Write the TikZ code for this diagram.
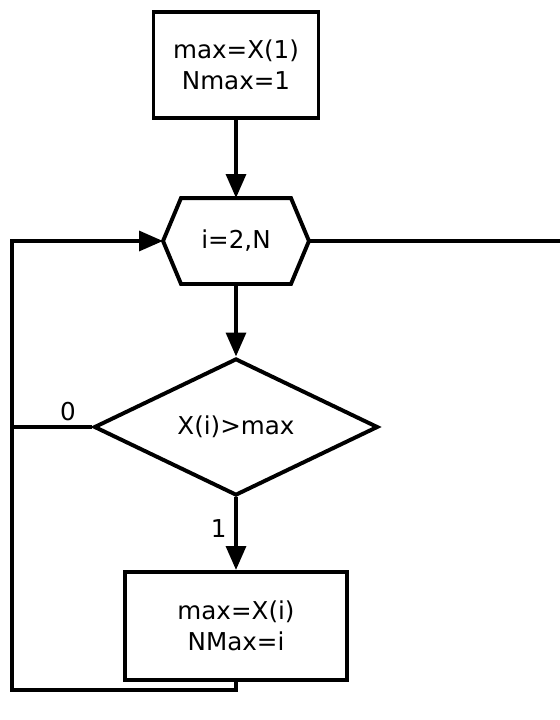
\documentclass[tikz,border=0pt]{standalone}
\usepackage{fontspec}
\setmainfont{DejaVu Sans}
\usetikzlibrary{arrows.meta,shapes.geometric}

\begin{document}
\begin{tikzpicture}[line width=2.8pt,
    font=\fontsize{17.5}{22.5}\selectfont,
    box/.style={draw,align=center,inner sep=0pt},
    flow/.style={-{Triangle[length=17pt,width=14pt]}}]
    \useasboundingbox (0,0) rectangle (14,-18);
    \node[box,minimum width=4.125cm,minimum height=2.65cm] (init) at (5.9,-1.625) {max=X(1)\\Nmax=1};
    \node[inner sep=0pt,minimum width=3.55cm,minimum height=2.05cm] (loop) at (5.9,-6.025) {i=2,N};
    \draw (loop.west)--([xshift=0.45cm]loop.north west)--([xshift=-0.45cm]loop.north east)--(loop.east)
        --([xshift=-0.45cm]loop.south east)--([xshift=0.45cm]loop.south west)--cycle;
    \node[draw,diamond,inner sep=0pt,aspect=2.07,minimum width=7.1cm,minimum height=3.425cm] (test) at (5.9,-10.675) {X(i)>max};
    \node[box,minimum width=5.55cm,minimum height=2.7cm] (upd) at (5.9,-15.65) {max=X(i)\\NMax=i};
    \coordinate (ret) at (0.3,-17.25);
    \coordinate (exit) at (14,-6.025);
    \draw[flow](init)--(loop.north);
    \draw[flow](loop.south)--(test.north);
    \draw[flow](test.south)--node[left,pos=0.43,xshift=-2pt]{1}(upd.north);
    \draw(test.west)--node[above,pos=0.3]{0}(test.west-|ret);
    \draw[flow](upd.south)|-(ret)--(ret|-loop.west)--(loop.west);
    \draw(loop.east)--(exit);
\end{tikzpicture}
\end{document}
